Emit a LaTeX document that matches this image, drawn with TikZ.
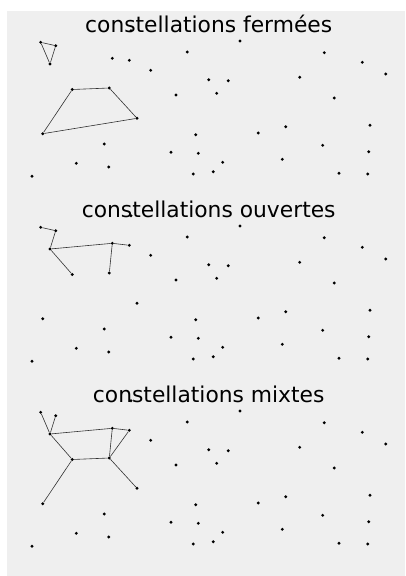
\documentclass[tikz,border=0pt]{standalone}
\usepackage{fontspec}
\setmainfont{DejaVu Sans}
\definecolor{skygray}{HTML}{EFEFEF}
\tikzset{
    star/.style={circle, fill=black, inner sep=0pt, minimum size=3.2pt},
    link/.style={draw=black!80, line width=0.6pt},
    title/.style={anchor=base, font=\fontsize{21.8}{26}\selectfont}
}
% the same sky is drawn in every panel
\newcommand{\starfield}{%
    \foreach \px/\py [count=\k] in {40.7/42.3, 55.7/45.7, 50/64, 72.3/89.5,
        112.3/58.3, 129.3/60.3, 109.3/88, 137/118.3, 42.7/133.7, 131/30.7,
        150.7/70.3, 187.3/52, 240/41, 208.7/79.7, 228.3/80.7, 176/95,
        216.7/93.3, 324.3/52.7, 362.3/62.3, 385.7/74, 299.7/77.3, 334.3/98,
        195.7/134.7, 258.3/133, 285.7/126.7, 370/125.3, 104.3/144,
        322.7/145.3, 368.7/151.7, 171/152.3, 198.3/153.3, 76.3/163.3,
        108.7/167, 222.7/162.3, 282.3/159.3, 32/176.3, 193.3/174,
        213.3/171.7, 339/173.3, 367.7/174}
        \node[star] (s\k) at (\px,\py) {};
}

\begin{document}
\begin{tikzpicture}[x=1pt, y=-1pt]
    \useasboundingbox (0,0) rectangle (405,576);
    \fill[skygray] (7,11) rectangle (405,576);

    % closed
    \begin{scope}[name prefix=closed-]
        \starfield
        \node[title] (title) at (208.7,32.7) {constellations fermées};
        \draw[link] (s1) -- (s2) -- (s3) -- (s1);
        \draw[link] (s4) -- (s7) -- (s8) -- (s9) -- (s4);
    \end{scope}

    % open
    \begin{scope}[shift={(0,185)}, name prefix=open-]
        \starfield
        \node[title] (title) at (208.7,32.7) {constellations ouvertes};
        \draw[link] (s1) -- (s2) -- (s3) -- (s4);
        \draw[link] (s3) -- (s5) -- (s6);
        \draw[link] (s5) -- (s7);
    \end{scope}

    % mixed
    \begin{scope}[shift={(0,370)}, name prefix=mixed-]
        \starfield
        \node[title] (title) at (208.7,32.7) {constellations mixtes};
        \draw[link] (s1) -- (s3);
        \draw[link] (s2) -- (s3);
        \draw[link] (s3) -- (s5) -- (s6) -- (s7) -- (s5);
        \draw[link] (s3) -- (s4) -- (s7);
        \draw[link] (s4) -- (s9);
        \draw[link] (s7) -- (s8);
    \end{scope}
\end{tikzpicture}
\end{document}
